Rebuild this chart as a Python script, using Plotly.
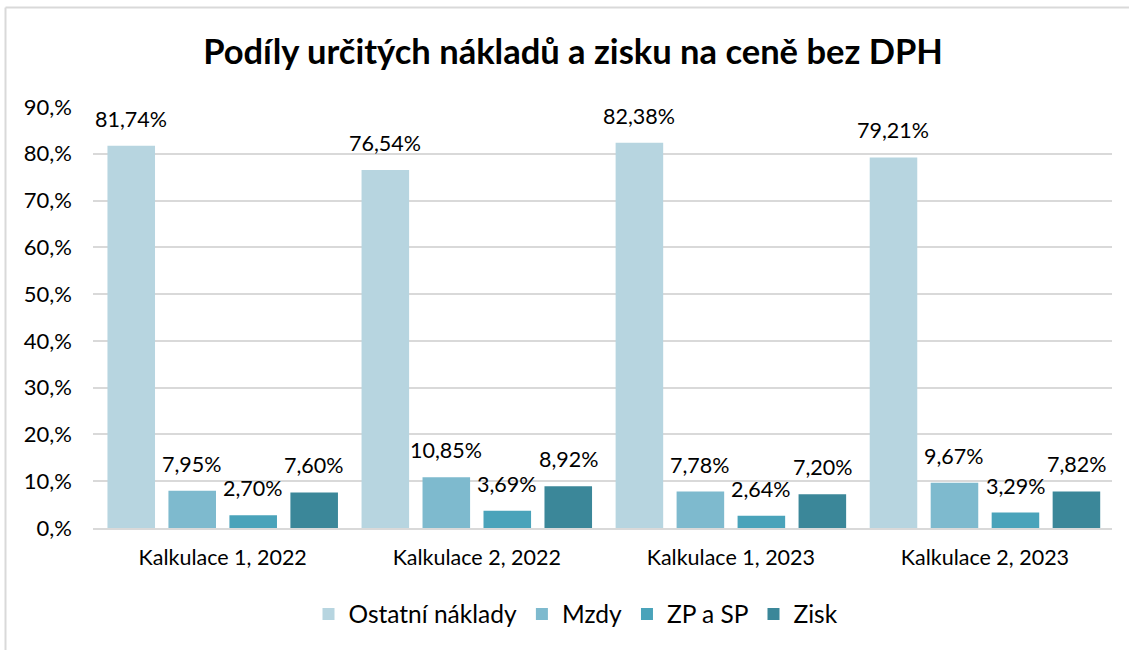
import plotly.graph_objects as go

categories = ["Kalkulace 1, 2022", "Kalkulace 2, 2022", "Kalkulace 1, 2023", "Kalkulace 2, 2023"]
series_names = ["Ostatní náklady", "Mzdy", "ZP a SP", "Zisk"]
ostatni = [81.74, 76.54, 82.38, 79.21]
mzdy = [7.95, 10.85, 7.78, 9.67]
zp_sp = [2.70, 3.69, 2.64, 3.29]
zisk = [7.60, 8.92, 7.20, 7.82]
tick_vals = [0, 10, 20, 30, 40, 50, 60, 70, 80, 90]
tick_text = ["0,%", "10,%", "20,%", "30,%", "40,%", "50,%", "60,%", "70,%", "80,%", "90,%"]

colors = ["#B7D5E0", "#7EBACE", "#4AA3BA", "#3B8799"]
FONT = "Lato"

W, H = 1129, 650
ml, mr, mt, mb = 93, 17, 107, 122
pw = W - ml - mr
ph = H - mt - mb
BARGAP = 0.04
BARGROUPGAP = 0.22
nser = len(series_names)
slot = pw / len(categories) * (1 - BARGAP) / nser

fig = go.Figure()
annotations = []
for i, (name, vals, col) in enumerate(zip(series_names, [ostatni, mzdy, zp_sp, zisk], colors)):
    fig.add_trace(go.Bar(
        x=categories, y=vals, name=name,
        marker=dict(color=col, line=dict(width=0)),
        hoverinfo="x+y+name",
    ))
    for c, v in zip(categories, vals):
        annotations.append(dict(
            x=c, y=v, xref="x", yref="y",
            text=f"{v:.2f}%".replace(".", ","),
            showarrow=False, xanchor="center", yanchor="bottom",
            xshift=(i - (nser - 1) / 2) * slot, yshift=12,
            font=dict(size=21.5, color="#000000", family=FONT),
        ))

fig.update_layout(
    width=W, height=H,
    margin=dict(l=ml, r=mr, t=mt, b=mb, autoexpand=False),
    paper_bgcolor="white", plot_bgcolor="white",
    barmode="group", bargap=BARGAP, bargroupgap=BARGROUPGAP,
    title=dict(text="<b>Podíly určitých nákladů a zisku na ceně bez DPH</b>",
               x=573 / W, xref="container", xanchor="center", y=1 - 52 / H, yanchor="middle",
               font=dict(size=34.5, color="#000000", family=FONT)),
    font=dict(family=FONT, color="#000000"),
    legend=dict(orientation="h", x=(576 - ml) / pw, xanchor="center", y=-(614 - (H - mb)) / ph, yanchor="middle",
                font=dict(size=24.5, family=FONT, color="#000000"),
                traceorder="normal"),
    xaxis=dict(showgrid=False, showline=True, linecolor="#D9D9D9", linewidth=2, automargin=False,
               tickfont=dict(size=21.5, family=FONT, color="#000000"), ticks="", ticklen=0,
               ticklabelstandoff=9),
    yaxis=dict(range=[0, 90], tickvals=tick_vals, ticktext=tick_text, automargin=False,
               showgrid=True, gridcolor="#D9D9D9", gridwidth=2, zeroline=False,
               tickfont=dict(size=22, family=FONT, color="#000000"), ticks="",
               ticklabelstandoff=20),
    annotations=annotations,
    shapes=[
        dict(type="line", xref="paper", yref="paper",
             x0=(5.5 - ml) / pw, x1=(5.5 - ml) / pw, y0=(H - mb - 7.5) / ph, y1=-(650 - (H - mb)) / ph,
             line=dict(color="#D9D9D9", width=2)),
        dict(type="line", xref="paper", yref="paper",
             x0=(5.5 - ml) / pw, x1=(1129 - ml) / pw, y0=(H - mb - 7.5) / ph, y1=(H - mb - 7.5) / ph,
             line=dict(color="#D9D9D9", width=2)),
    ],
)

fig.write_html("out.html", config={"displayModeBar": False},
               post_script="document.body.style.margin='0';document.body.style.overflow='hidden';")
